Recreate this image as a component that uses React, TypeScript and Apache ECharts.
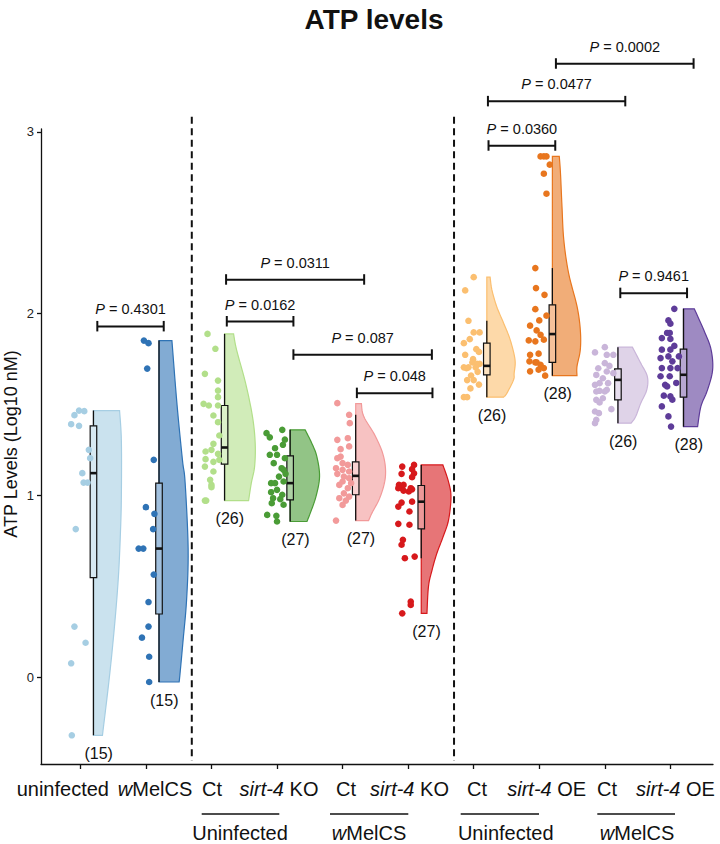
import React, { useEffect, useRef } from "react";
import * as echarts from "echarts";

const FONT = "'Liberation Sans', Arial, Helvetica, sans-serif";

// ---------- data ----------
const categories = ["uninfected", "wMelCS", "Ct", "sirt-4 KO", "Ct", "sirt-4 KO", "Ct", "sirt-4 OE", "Ct", "sirt-4 OE"];
const groupLabels = ["Uninfected", "wMelCS", "Uninfected", "wMelCS"];
const yTicks = [0, 1, 2, 3];
const xTicks = [1, 2, 3, 4, 5, 6, 7, 8, 9, 10];
const separators = [2.7, 6.7];
const colors = ["#a6cee3", "#2f73b5", "#b2df8a", "#4a9c36", "#f29a9a", "#d7191c", "#fbbf70", "#e8761e", "#c9b5d9", "#5e3c99"];

// points: [horizontal jitter (x units), log10 ATP]
const ptsUninfected = [[-0.09,1.442],[-0.02,1.467],[0.06,1.464],[-0.14,1.392],[-0.02,1.383],[0.13,1.251],[0.15,1.205],[0.03,1.123],[0.05,1.071],[0.11,1.071],[-0.07,0.815],[-0.09,0.279],[0.08,0.190],[-0.14,0.077],[-0.13,-0.319]];
const ptsWMel = [[-0.03,1.852],[0.04,1.838],[0.02,1.698],[0.12,1.196],[0.00,0.936],[0.13,0.899],[0.11,0.815],[-0.11,0.708],[-0.04,0.708],[0.12,0.565],[0.04,0.414],[0.04,0.279],[-0.06,0.218],[0.05,0.113],[0.05,-0.026]];
const ptsKoCtU = [[-0.06,1.889],[0.06,1.807],[-0.10,1.669],[0.10,1.632],[0.10,1.577],[0.10,1.541],[-0.12,1.504],[-0.04,1.495],[0.10,1.495],[0.03,1.440],[0.10,1.403],[0.12,1.330],[0.03,1.284],[0.00,1.251],[-0.09,1.242],[0.10,1.229],[-0.09,1.200],[0.12,1.196],[0.03,1.185],[-0.10,1.159],[0.03,1.132],[-0.02,1.086],[0.00,1.058],[0.00,1.046],[-0.10,0.972],[-0.08,0.972]];
const ptsKoU = [[0.08,1.361],[-0.16,1.343],[-0.11,1.320],[0.12,1.307],[0.09,1.279],[-0.03,1.260],[-0.11,1.224],[0.00,1.224],[0.12,1.205],[-0.05,1.178],[0.07,1.150],[0.10,1.141],[0.13,1.119],[0.03,1.104],[0.10,1.077],[-0.09,1.068],[-0.03,1.068],[0.00,1.031],[-0.09,1.018],[0.08,1.004],[-0.06,0.985],[0.05,0.980],[-0.08,0.958],[0.10,0.949],[-0.15,0.893],[-0.01,0.888],[0.00,0.857]];
const ptsKoCtW = [[-0.08,1.508],[0.10,1.444],[0.11,1.398],[-0.08,1.306],[0.08,1.315],[-0.03,1.255],[0.10,1.270],[-0.03,1.214],[-0.08,1.205],[0.00,1.178],[0.08,1.169],[-0.10,1.150],[0.00,1.141],[0.10,1.132],[-0.08,1.119],[0.02,1.104],[0.10,1.095],[0.00,1.077],[0.13,1.068],[-0.05,1.058],[0.08,1.040],[0.02,1.012],[0.10,0.994],[-0.05,0.985],[0.05,0.972],[0.00,0.948],[-0.10,0.862]];
const ptsKoW = [[-0.09,1.159],[0.09,1.168],[0.06,1.145],[-0.10,1.119],[0.09,1.122],[0.06,1.101],[-0.14,1.058],[-0.07,1.058],[-0.10,1.040],[-0.15,1.040],[0.01,1.022],[0.06,1.034],[-0.07,1.027],[0.04,1.040],[-0.10,0.961],[-0.15,0.939],[0.06,0.966],[0.02,0.912],[-0.15,0.844],[0.02,0.839],[-0.08,0.756],[-0.10,0.729],[-0.05,0.655],[0.10,0.664],[0.04,0.416],[0.04,0.398],[-0.09,0.352]];
const ptsOeCtU = [[0.00,2.201],[-0.13,2.128],[-0.08,1.961],[0.00,1.897],[0.09,1.897],[-0.06,1.860],[-0.15,1.838],[0.04,1.805],[0.08,1.790],[-0.13,1.774],[-0.01,1.750],[-0.02,1.732],[0.05,1.724],[0.09,1.724],[-0.15,1.705],[-0.08,1.705],[0.03,1.705],[-0.11,1.700],[0.06,1.680],[-0.04,1.660],[-0.10,1.635],[0.00,1.635],[0.08,1.610],[-0.05,1.589],[-0.15,1.541],[-0.10,1.541]];
const ptsOeU = [[0.02,2.865],[0.07,2.865],[0.11,2.865],[0.16,2.820],[0.07,2.770],[0.11,2.660],[-0.06,2.251],[-0.05,2.141],[0.08,2.104],[-0.06,2.025],[0.11,1.989],[0.00,1.963],[-0.14,1.934],[-0.04,1.908],[0.02,1.884],[0.07,1.857],[-0.16,1.853],[-0.06,1.848],[-0.01,1.780],[-0.14,1.774],[-0.15,1.738],[-0.06,1.732],[-0.04,1.732],[0.02,1.719],[0.07,1.701],[-0.01,1.692],[-0.14,1.683],[0.09,1.659]];
const ptsOeCtW = [[-0.15,1.787],[0.00,1.816],[0.03,1.774],[0.13,1.774],[0.00,1.728],[0.07,1.713],[-0.10,1.700],[0.03,1.682],[0.13,1.673],[-0.13,1.663],[-0.03,1.645],[-0.08,1.618],[0.05,1.618],[-0.15,1.609],[0.03,1.581],[-0.08,1.576],[-0.13,1.572],[0.00,1.572],[-0.13,1.526],[-0.03,1.535],[-0.08,1.512],[0.10,1.475],[-0.15,1.462],[-0.09,1.453],[-0.13,1.416],[-0.15,1.398]];
const ptsOeW = [[0.06,2.027],[-0.03,1.963],[0.00,1.945],[-0.05,1.894],[-0.01,1.894],[-0.13,1.866],[0.00,1.861],[0.06,1.823],[-0.13,1.802],[0.00,1.802],[0.13,1.765],[-0.03,1.765],[-0.15,1.756],[0.03,1.738],[-0.13,1.701],[0.00,1.701],[0.11,1.701],[-0.15,1.656],[-0.01,1.656],[0.09,1.619],[-0.08,1.609],[-0.05,1.600],[-0.10,1.549],[0.00,1.545],[0.03,1.527],[-0.13,1.490],[-0.03,1.435],[0.01,1.379]];
const groupPoints = [ptsUninfected, ptsWMel, ptsKoCtU, ptsKoU, ptsKoCtW, ptsKoW, ptsOeCtU, ptsOeU, ptsOeCtW, ptsOeW];

// box stats: [whisker low, Q1, median, Q3, whisker high]
const boxStats = [
  [-0.319, 0.548, 1.123, 1.383, 1.467],
  [-0.026, 0.348, 0.708, 1.068, 1.852],
  [0.972, 1.172, 1.264, 1.495, 1.889],
  [0.857, 0.976, 1.068, 1.218, 1.361],
  [0.862, 1.004, 1.108, 1.185, 1.444],
  [0.655, 0.816, 0.966, 1.055, 1.168],
  [1.541, 1.663, 1.713, 1.838, 1.961],
  [1.659, 1.732, 1.888, 2.049, 2.251],
  [1.398, 1.526, 1.636, 1.697, 1.816],
  [1.379, 1.541, 1.664, 1.805, 2.027],
];

// half-violin outline: [value, relative density]
const violinUninfected = [[1.467,0.87],[1.30,0.93],[1.0,0.93],[0.8,0.9],[0.55,0.83],[0.28,0.7],[0.0,0.53],[-0.319,0.3]];
const violinWMel = [[1.852,0.43],[1.5,0.6],[1.196,0.78],[1.07,0.87],[0.708,0.97],[0.43,0.92],[0.2,0.8],[0.02,0.7],[-0.026,0.67]];
const violinKoCtU = [[1.889,0.3],[1.801,0.4],[1.618,0.7],[1.434,0.93],[1.287,1.02],[1.159,1.0],[1.068,0.89],[0.972,0.8]];
const violinKoU = [[1.361,0.5],[1.288,0.72],[1.214,0.89],[1.104,0.98],[0.994,0.86],[0.903,0.67],[0.857,0.56]];
const violinKoCtW = [[1.505,0.19],[1.434,0.27],[1.325,0.66],[1.214,0.93],[1.104,0.99],[0.994,0.82],[0.903,0.54],[0.862,0.43]];
const violinKoW = [[1.168,0.72],[1.08,0.9],[0.994,0.99],[0.866,0.91],[0.774,0.73],[0.682,0.52],[0.59,0.36],[0.499,0.24],[0.352,0.19]];
const violinOeCtU = [[2.201,0.11],[2.131,0.17],[2.039,0.33],[1.948,0.56],[1.856,0.78],[1.746,0.94],[1.672,0.91],[1.636,0.89],[1.563,0.67],[1.541,0.56]];
const violinOeU = [[2.865,0.23],[2.773,0.27],[2.590,0.32],[2.406,0.38],[2.223,0.54],[2.041,0.82],[1.912,0.93],[1.802,0.93],[1.710,0.82],[1.659,0.82]];
const violinOeCtW = [[1.816,0.48],[1.728,0.76],[1.654,0.98],[1.581,0.96],[1.508,0.76],[1.434,0.59],[1.398,0.44]];
const violinOeW = [[2.027,0.36],[1.893,0.72],[1.801,0.92],[1.691,0.97],[1.581,0.8],[1.490,0.58],[1.379,0.47]];
const violins = [violinUninfected, violinWMel, violinKoCtU, violinKoU, violinKoCtW, violinKoW, violinOeCtU, violinOeU, violinOeCtW, violinOeW];

// comparisons: [x start, x end, bracket height, p label]
const brackets: [number, number, number, string][] = [
  [1.259, 2.272, 1.93, "0.4301"],
  [3.223, 5.329, 2.187, "0.0311"],
  [3.234, 4.25, 1.957, "0.0162"],
  [4.25, 6.362, 1.774, "0.087"],
  [5.218, 6.371, 1.563, "0.048"],
  [7.226, 8.244, 2.924, "0.0360"],
  [7.217, 9.312, 3.168, "0.0477"],
  [8.254, 10.354, 3.375, "0.0002"],
  [9.236, 10.254, 2.113, "0.9461"],
];

// ---------- layout ----------
const X_MIN = 0.4, X_MAX = 10.65, Y_MIN = -0.477, Y_MAX = 3.016;
const BOX_OFFSET = 0.2, BOX_HALF = 0.05, VIOLIN_W = 0.458;
const xLabelCenters = [62.8, 155, 212, 279, 346, 409.5, 477, 546.7, 607, 675.5];
const groupLines = [[201.7, 279.3], [330, 408.3], [460.7, 539], [597.3, 675]];
const groupLabelCenters = [240, 369, 505.7, 637];

function blend(hex: string, a: number) {
  const n = parseInt(hex.slice(1), 16);
  const r = (n >> 16) & 255, g = (n >> 8) & 255, b = n & 255;
  const m = (c: number) => Math.round(c * a + 255 * (1 - a));
  return `rgb(${m(r)},${m(g)},${m(b)})`;
}

function smoothEdge(pts: number[][], steps = 8) {
  const out: number[][] = [];
  for (let i = 0; i < pts.length - 1; i++) {
    const p0 = pts[Math.max(i - 1, 0)], p1 = pts[i], p2 = pts[i + 1], p3 = pts[Math.min(i + 2, pts.length - 1)];
    for (let s = 0; s < steps; s++) {
      const t = s / steps, t2 = t * t, t3 = t2 * t;
      const f = (a: number, b: number, c: number, d: number) =>
        0.5 * (2 * b + (-a + c) * t + (2 * a - 5 * b + 4 * c - d) * t2 + (-a + 3 * b - 3 * c + d) * t3);
      out.push([f(p0[0], p1[0], p2[0], p3[0]), f(p0[1], p1[1], p2[1], p3[1])]);
    }
  }
  out.push(pts[pts.length - 1]);
  return out;
}

function italicize(s: string) {
  return s.replace(/^w(?=MelCS)/, "{i|w}").replace("sirt-4", "{i|sirt-4}");
}

function textStyle(text: string, size: number, extra: any = {}) {
  return {
    text,
    fill: "#111",
    fontSize: size,
    fontFamily: FONT,
    align: "center",
    verticalAlign: "middle",
    textAlign: "center",
    textVerticalAlign: "middle",
    rich: { i: { fontStyle: "italic", fontSize: size, fontFamily: FONT, fill: "#111" } },
    ...extra,
  };
}

function buildOption() {
  const series: any[] = [];

  // separators
  series.push({
    type: "custom",
    silent: true,
    clip: false,
    data: separators.map((s) => [s, Y_MAX]),
    renderItem: (params: any, api: any) => {
      const x = separators[params.dataIndex];
      const a = api.coord([x, 3.084]);
      const b = api.coord([x, Y_MIN]);
      return {
        type: "line",
        shape: { x1: a[0], y1: a[1], x2: b[0], y2: b[1] - 3 },
        style: { stroke: "#111", lineWidth: 2, lineDash: [7, 4.5] },
      };
    },
  });

  // violins
  series.push({
    type: "custom",
    silent: true,
    clip: false,
    data: violins.map((_, i) => [i + 1, 0]),
    renderItem: (params: any, api: any) => {
      const g = params.dataIndex;
      const prof = violins[g];
      const cx = g + 1 + BOX_OFFSET;
      const top = api.coord([cx, prof[0][0]]);
      const bottom = api.coord([cx, prof[prof.length - 1][0]]);
      const edge = smoothEdge(prof.map(([v, d]) => api.coord([cx + d * VIOLIN_W, v])));
      return {
        type: "polygon",
        shape: { points: [top, ...edge, bottom] },
        style: { fill: blend(colors[g], 0.6), stroke: colors[g], lineWidth: 1.2 },
      };
    },
  });

  // boxes
  series.push({
    type: "custom",
    silent: true,
    clip: false,
    data: boxStats.map((_, i) => [i + 1, 0]),
    renderItem: (params: any, api: any) => {
      const g = params.dataIndex;
      const s = boxStats[g];
      const cx = g + 1 + BOX_OFFSET;
      const lo = api.coord([cx, s[0]]);
      const hi = api.coord([cx, s[4]]);
      const q1 = api.coord([cx - BOX_HALF, s[1]]);
      const q3 = api.coord([cx + BOX_HALF, s[3]]);
      const m = api.coord([cx, s[2]]);
      return {
        type: "group",
        children: [
          { type: "line", shape: { x1: lo[0], y1: lo[1], x2: hi[0], y2: hi[1] }, style: { stroke: "#111", lineWidth: 1.3 } },
          {
            type: "rect",
            shape: { x: q1[0], y: q3[1], width: q3[0] - q1[0], height: q1[1] - q3[1] },
            style: { fill: blend(colors[g], 0.45), stroke: "#111", lineWidth: 1.2 },
          },
          { type: "line", shape: { x1: q1[0], y1: m[1], x2: q3[0], y2: m[1] }, style: { stroke: "#111", lineWidth: 2.6 } },
        ],
      };
    },
  });

  // points
  groupPoints.forEach((pts, g) => {
    series.push({
      type: "scatter",
      silent: true,
      symbolSize: 6.6,
      itemStyle: { color: colors[g], opacity: 1 },
      data: pts.map(([dx, v]) => [g + 1 + dx, v]),
      z: 3,
    });
  });

  // n labels
  series.push({
    type: "custom",
    silent: true,
    clip: false,
    data: groupPoints.map((_, g) => [g + 1 + 0.28, violins[g][violins[g].length - 1][0] - 0.1]),
    renderItem: (params: any, api: any) => {
      const g = params.dataIndex;
      const p = api.coord([api.value(0), api.value(1)]);
      return { type: "text", x: p[0], y: p[1], style: textStyle(`(${groupPoints[g].length})`, 16) };
    },
    z: 4,
  });

  // brackets
  series.push({
    type: "custom",
    silent: true,
    clip: false,
    data: brackets.map((b) => [b[0], b[2]]),
    renderItem: (params: any, api: any) => {
      const b = brackets[params.dataIndex];
      const p1 = api.coord([b[0], b[2]]);
      const p2 = api.coord([b[1], b[2]]);
      const st = { stroke: "#111", lineWidth: 2 };
      return {
        type: "group",
        children: [
          { type: "line", shape: { x1: p1[0], y1: p1[1], x2: p2[0], y2: p2[1] }, style: st },
          { type: "line", shape: { x1: p1[0], y1: p1[1] - 5.5, x2: p1[0], y2: p1[1] + 5 }, style: st },
          { type: "line", shape: { x1: p2[0], y1: p2[1] - 5.5, x2: p2[0], y2: p2[1] + 5 }, style: st },
          { type: "text", x: (p1[0] + p2[0]) / 2, y: p1[1] - 17, style: textStyle(`{i|P} = ${b[3]}`, 14.5) },
        ],
      };
    },
    z: 5,
  });

  const graphic: any[] = [
    {
      type: "text",
      x: 374,
      y: 19,
      style: textStyle("ATP levels", 28, { fontWeight: "bold" }),
    },
    {
      type: "text",
      x: 11,
      y: 444,
      rotation: Math.PI / 2,
      style: textStyle("ATP Levels (Log10 nM)", 18),
    },
  ];
  categories.forEach((c, i) => {
    graphic.push({ type: "text", x: xLabelCenters[i], y: 789, style: textStyle(italicize(c), 20) });
  });
  groupLabels.forEach((c, i) => {
    graphic.push({
      type: "line",
      shape: { x1: groupLines[i][0], y1: 814, x2: groupLines[i][1], y2: 814 },
      style: { stroke: "#111", lineWidth: 1.6 },
    });
    graphic.push({ type: "text", x: groupLabelCenters[i], y: 833, style: textStyle(italicize(c), 20) });
  });

  const axisLine = { show: true, onZero: false, lineStyle: { color: "#111", width: 1.3 } };
  return {
    animation: false,
    backgroundColor: "#fff",
    grid: { left: 41, right: 7, top: 129, bottom: 80, containLabel: false, outerBoundsMode: "none" },
    xAxis: {
      type: "value",
      min: X_MIN,
      max: X_MAX,
      axisLine,
      axisTick: { show: true, customValues: xTicks, length: 5, lineStyle: { color: "#111", width: 1.3 } },
      axisLabel: { show: false },
      splitLine: { show: false },
    },
    yAxis: {
      type: "value",
      min: Y_MIN,
      max: Y_MAX,
      axisLine,
      axisTick: { show: true, customValues: yTicks, length: 4, lineStyle: { color: "#111", width: 1.3 } },
      axisLabel: { show: true, customValues: yTicks, fontSize: 13, color: "#222", fontFamily: FONT, margin: 7 },
      splitLine: { show: false },
    },
    graphic,
    series,
  };
}

export default function App() {
  const ref = useRef<HTMLDivElement>(null);
  useEffect(() => {
    const chart = echarts.init(ref.current!, null, { renderer: "svg" });
    chart.setOption(buildOption() as any);
    return () => chart.dispose();
  }, []);
  return (
    <div
      ref={ref}
      style={{ position: "fixed", left: 0, top: 0, width: 720, height: 844, background: "#fff" }}
    />
  );
}
